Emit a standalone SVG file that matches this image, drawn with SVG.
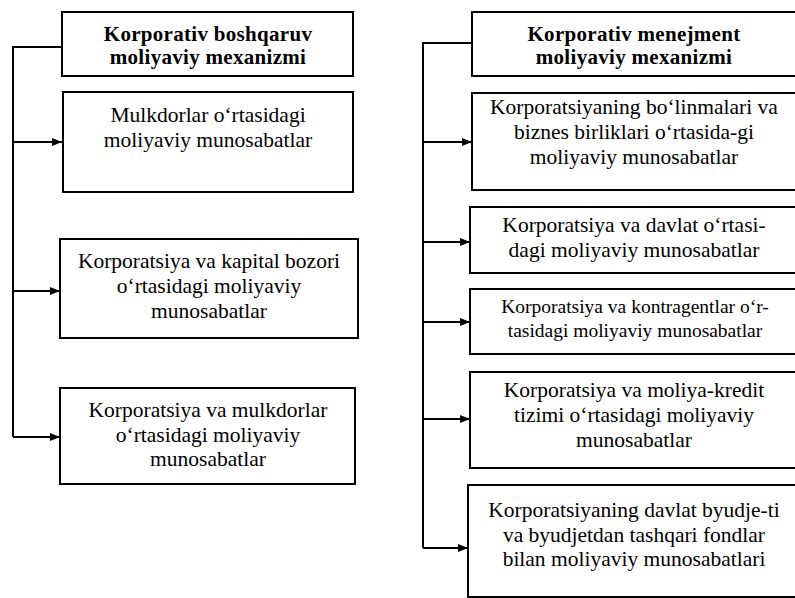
<svg xmlns="http://www.w3.org/2000/svg" width="795" height="598" viewBox="0 0 795 598">
<defs>
<marker id="arr" viewBox="0 0 10 8" refX="10" refY="4" markerWidth="10" markerHeight="8" markerUnits="userSpaceOnUse" orient="auto">
<path d="M0,0 L10,4 L0,8 Z" fill="#000"/>
</marker>
<style>
.box{fill:#fff;stroke:#000;stroke-width:2}
.t{font-family:"Liberation Serif","Times New Roman",serif;font-size:21.5px;fill:#000;text-anchor:middle}
.h{font-family:"Liberation Serif","Times New Roman",serif;font-size:21px;font-weight:bold;fill:#000;text-anchor:middle;letter-spacing:0.3px}
.s{font-size:19.5px}
.c{fill:none;stroke:#000;stroke-width:2}
</style>
</defs>
<rect width="795" height="598" fill="#fff"/>
<g id="connectors">
<path class="c" d="M62,47 H13 V437"/>
<line class="c" x1="13" y1="142" x2="62" y2="142" marker-end="url(#arr)"/>
<line class="c" x1="13" y1="291" x2="60" y2="291" marker-end="url(#arr)"/>
<line class="c" x1="13" y1="437" x2="60" y2="437" marker-end="url(#arr)"/>
<path class="c" d="M472,43 H423 V548"/>
<line class="c" x1="423" y1="142" x2="472" y2="142" marker-end="url(#arr)"/>
<line class="c" x1="423" y1="242" x2="470" y2="242" marker-end="url(#arr)"/>
<line class="c" x1="423" y1="322" x2="470" y2="322" marker-end="url(#arr)"/>
<line class="c" x1="423" y1="419" x2="470" y2="419" marker-end="url(#arr)"/>
<line class="c" x1="423" y1="548" x2="468" y2="548" marker-end="url(#arr)"/>
</g>
<g id="left-header">
<rect class="box" x="62" y="12" width="291" height="64"/>
<text class="h" x="208" y="41">Korporativ boshqaruv</text>
<text class="h" x="208" y="64">moliyaviy mexanizmi</text>
</g>
<g id="left-1">
<rect class="box" x="63" y="92" width="290" height="100"/>
<text class="t" x="208" y="122">Mulkdorlar o‘rtasidagi</text>
<text class="t" x="208" y="147">moliyaviy munosabatlar</text>
</g>
<g id="left-2">
<rect class="box" x="60" y="239" width="298" height="99"/>
<text class="t" x="209" y="268">Korporatsiya va kapital bozori</text>
<text class="t" x="209" y="293">o‘rtasidagi moliyaviy</text>
<text class="t" x="209" y="318">munosabatlar</text>
</g>
<g id="left-3">
<rect class="box" x="60" y="388" width="295" height="96"/>
<text class="t" x="208" y="417">Korporatsiya va mulkdorlar</text>
<text class="t" x="208" y="442">o‘rtasidagi moliyaviy</text>
<text class="t" x="208" y="466">munosabatlar</text>
</g>
<g id="right-header">
<rect class="box" x="472" y="12" width="330" height="64"/>
<text class="h" x="634" y="41">Korporativ menejment</text>
<text class="h" x="634" y="64">moliyaviy mexanizmi</text>
</g>
<g id="right-1">
<rect class="box" x="472" y="93" width="330" height="97"/>
<text class="t" x="634" y="114">Korporatsiyaning bo‘linmalari va</text>
<text class="t" x="634" y="139">biznes birliklari o‘rtasida-gi</text>
<text class="t" x="634" y="164">moliyaviy munosabatlar</text>
</g>
<g id="right-2">
<rect class="box" x="470" y="207" width="332" height="66"/>
<text class="t" x="634" y="232">Korporatsiya va davlat o‘rtasi-</text>
<text class="t" x="634" y="257">dagi moliyaviy munosabatlar</text>
</g>
<g id="right-3">
<rect class="box" x="470" y="289" width="332" height="65"/>
<text class="t s" x="635" y="313">Korporatsiya va kontragentlar o‘r-</text>
<text class="t s" x="635" y="337">tasidagi moliyaviy munosabatlar</text>
</g>
<g id="right-4">
<rect class="box" x="470" y="372" width="332" height="96"/>
<text class="t" x="634" y="397">Korporatsiya va moliya-kredit</text>
<text class="t" x="634" y="422">tizimi o‘rtasidagi moliyaviy</text>
<text class="t" x="634" y="447">munosabatlar</text>
</g>
<g id="right-5">
<rect class="box" x="468" y="485" width="334" height="112"/>
<text class="t" x="634" y="517">Korporatsiyaning davlat byudje-ti</text>
<text class="t" x="634" y="542">va byudjetdan tashqari fondlar</text>
<text class="t" x="634" y="566">bilan moliyaviy munosabatlari</text>
</g>
</svg>
